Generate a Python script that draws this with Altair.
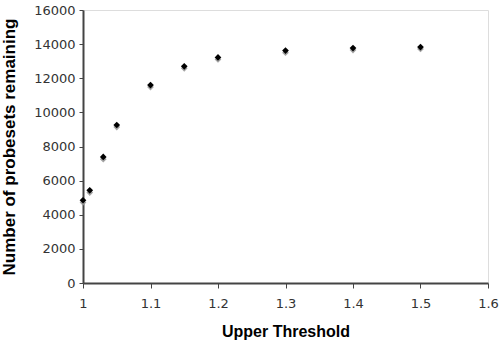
import altair as alt
import pandas as pd

thresholds = [1.0, 1.01, 1.03, 1.05, 1.1, 1.15, 1.2, 1.3, 1.4, 1.5]
remaining_a = [4850, 5430, 7390, 9260, 11600, 12700, 13220, 13620, 13770, 13830]
remaining_b = [4720, 5300, 7260, 9140, 11480, 12580, 13100, 13500, 13650, 13720]
x_ticks = [1, 1.1, 1.2, 1.3, 1.4, 1.5, 1.6]
y_ticks = [0, 2000, 4000, 6000, 8000, 10000, 12000, 14000, 16000]

df_a = pd.DataFrame({"x": thresholds, "y": remaining_a})
df_b = pd.DataFrame({"x": thresholds, "y": remaining_b})

xscale = alt.Scale(domain=[1, 1.6], nice=False, zero=False)
yscale = alt.Scale(domain=[0, 16000], nice=False)

xaxis = alt.Axis(
    title="Upper Threshold", values=x_ticks, tickCount=7,
    format="~g", grid=False, domainColor="#444", domainWidth=2,
    tickColor="#444", tickSize=5, tickWidth=1, labelFont="DejaVu Sans",
    labelFontSize=13, labelColor="#333", labelPadding=9,
    labelFlush=False, labelOverlap=False,
    titleFont="Liberation Sans", titleFontSize=16, titleFontWeight="bold",
    titleColor="#000", titlePadding=13,
)
yaxis = alt.Axis(
    title="Number of probesets remaining", values=y_ticks, tickCount=9,
    format="d", grid=False, domainColor="#444", domainWidth=2,
    tickColor="#444", tickSize=4, tickWidth=1, labelFont="DejaVu Sans",
    labelFontSize=13, labelColor="#333", labelPadding=4,
    labelFlush=False, labelOverlap=False,
    titleFont="Liberation Sans", titleFontSize=17, titleFontWeight="bold",
    titleColor="#000", titlePadding=15,
)

gray = alt.Chart(df_b).mark_point(shape="diamond", filled=True, size=45, color="#999", opacity=0.9).encode(
    x=alt.X("x:Q", scale=xscale, axis=xaxis),
    y=alt.Y("y:Q", scale=yscale, axis=yaxis),
)
black = alt.Chart(df_a).mark_point(shape="diamond", filled=True, size=45, color="#000", opacity=1).encode(
    x=alt.X("x:Q", scale=xscale, axis=xaxis),
    y=alt.Y("y:Q", scale=yscale, axis=yaxis),
)

chart = (gray + black).properties(
    width=405, height=273,
    autosize=alt.AutoSizeParams(type="none"),
    padding={"left": 83, "top": 10, "right": 12, "bottom": 63},
).configure_view(stroke="#444", strokeWidth=1.5).configure(background="white")

chart.save("out.html", embed_options={"renderer": "svg", "actions": False})
